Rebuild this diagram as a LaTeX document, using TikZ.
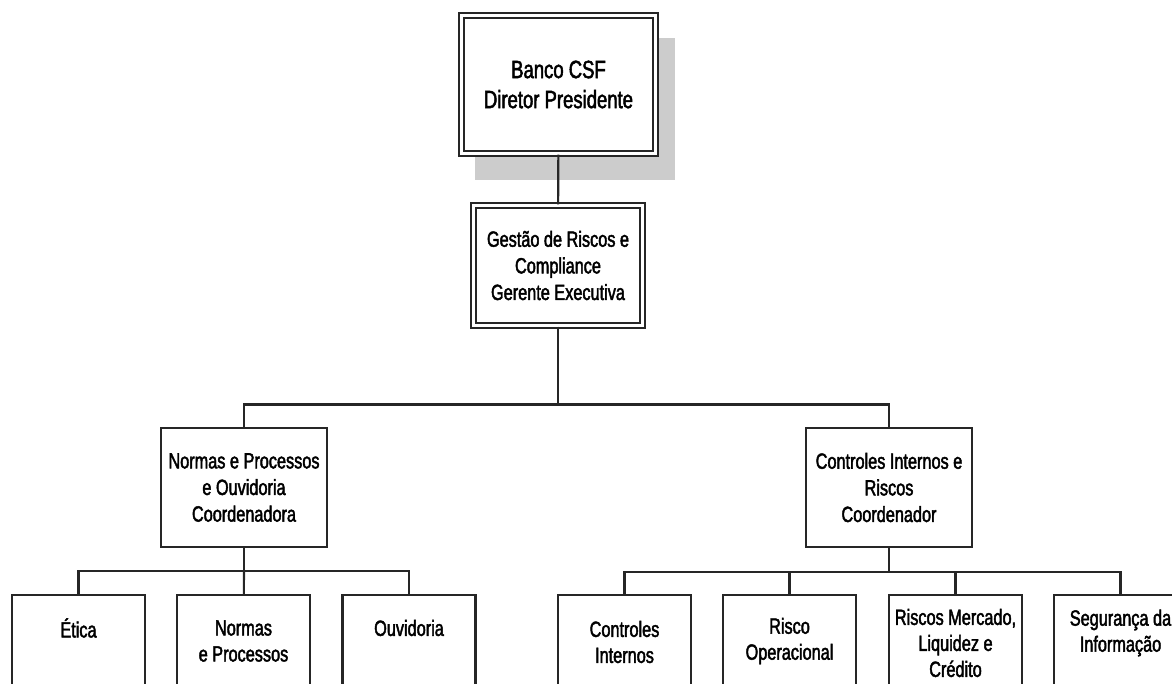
\documentclass[tikz,border=0pt]{standalone}
\usepackage{fontspec}
\setmainfont{Liberation Sans}[FakeStretch=0.74,FakeBold=2]
\usetikzlibrary{positioning,shadows}

\begin{document}
\begin{tikzpicture}[x=0.5pt,y=-0.5pt,
    line/.style={draw=black!85,line width=1.05pt},
    box/.style={line,rectangle,fill=white,inner sep=0pt,align=center,
        font=\fontsize{11}{13.3}\selectfont},
    dbox/.style={box,double,double distance=1.4pt},
    unit/.style={box,minimum width=83pt,minimum height=59.5pt},
    leaf/.style={box,minimum width=66.5pt,minimum height=62.5pt},
    txt/.style={inner sep=0pt,align=center,font=\fontsize{11}{13}\selectfont}]
        \useasboundingbox (0,0) rectangle (1172,684);
        \clip (0,0) rectangle (1172,684);
        % topo
        \node[dbox,minimum width=97pt,minimum height=69pt,
            font=\fontsize{12.5}{15}\selectfont,
            drop shadow={shadow xshift=8pt,shadow yshift=-11.75pt,shadow scale=1.03,fill=black!20,opacity=1}]
            (pres) at (558.5,84.5) {Banco CSF\\Diretor Presidente};
        \node[dbox,minimum width=84.5pt,minimum height=60pt]
            (gest) at (558,265.5) {Gestão de Riscos e\\Compliance\\Gerente Executiva};
        \node[unit](np) at (244,487.5) {Normas e Processos\\e Ouvidoria\\Coordenadora};
        \node[unit](cir) at (889,487.5) {Controles Internos e\\Riscos\\Coordenador};
        % folhas
        \node[leaf](etica) at (78.5,657.5) {};
        \node[leaf](normas) at (243.5,657.5) {};
        \node[leaf](ouv) at (409,657.5) {};
        \node[leaf](ci) at (624.5,657.5) {};
        \node[leaf](ro) at (789.5,657.5) {};
        \node[leaf](rm) at (955.5,657.5) {};
        \node[leaf](si) at (1120.5,657.5) {};
        \node[txt](etica-t) at (78.5,628) {Ética};
        \node[txt](normas-t) at (243.5,641) {Normas\\e Processos};
        \node[txt](ouv-t) at (409,628) {Ouvidoria};
        \node[txt](ci-t) at (624.5,642) {Controles\\Internos};
        \node[txt](ro-t) at (789.5,641) {Risco\\Operacional};
        \node[txt](rm-t) at (955.5,643) {Riscos Mercado,\\Liquidez e\\Crédito};
        \node[txt](si-t) at (1120.5,633) {Segurança da\\Informação};
        % ligacoes
        \coordinate(j1) at (558,404.5);
        \coordinate(j2) at (244,571);
        \coordinate(j3) at (889,572);
        \draw[line](pres)--(gest);
        \draw[line](gest)--(j1);
        \draw[line](j1)-|(np);
        \draw[line](j1)-|(cir);
        \draw[line](np)--(j2);
        \draw[line](j2)-|(etica);
        \draw[line](j2)--(normas);
        \draw[line](j2)-|(ouv);
        \draw[line](cir)--(j3);
        \draw[line](j3)-|(ci);
        \draw[line](j3)-|(ro);
        \draw[line](j3)-|(rm);
        \draw[line](j3)-|(si);
        \end{tikzpicture}
\end{document}
